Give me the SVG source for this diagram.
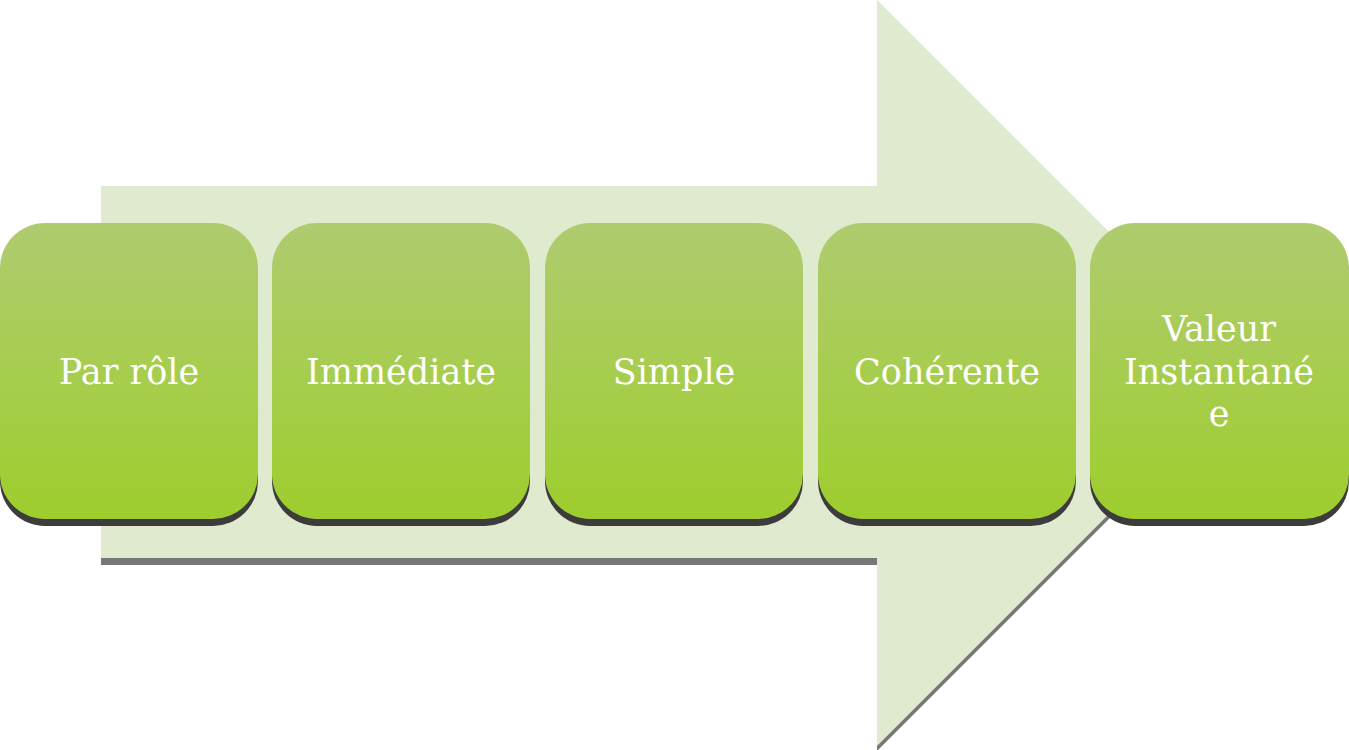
<svg xmlns="http://www.w3.org/2000/svg" width="1349" height="750" viewBox="0 0 1349 750">
<defs>
<linearGradient id="g" x1="0" y1="0" x2="0" y2="1">
<stop offset="0" stop-color="#afcb6f"/>
<stop offset="0.5" stop-color="#a7cd4f"/>
<stop offset="1" stop-color="#9ecd2d"/>
</linearGradient>
<style>
.sh{fill:#3c3c3c}
.bx{fill:url(#g)}
.t{font-family:"DejaVu Serif","Liberation Serif",serif;font-size:35px;fill:#ffffff;text-anchor:middle}
</style>
</defs>
<g id="arrow">
<path d="M101,191 H877 V5 L1250,378 L877,751 V565 H101 Z" fill="#777777"/>
<path d="M101,186 H877 V0 L1250,373 L877,746 V558 H101 Z" fill="#e0eacf"/>
</g>
<g id="connectors"></g>
<g id="n1">
<rect class="sh" x="0" y="230" width="258" height="296" rx="45"/>
<rect class="bx" x="0" y="223" width="258" height="296" rx="45"/>
<text class="t" x="129" y="384">Par rôle</text>
</g>
<g id="n2">
<rect class="sh" x="272" y="230" width="258" height="296" rx="45"/>
<rect class="bx" x="272" y="223" width="258" height="296" rx="45"/>
<text class="t" x="401" y="384">Immédiate</text>
</g>
<g id="n3">
<rect class="sh" x="545" y="230" width="258" height="296" rx="45"/>
<rect class="bx" x="545" y="223" width="258" height="296" rx="45"/>
<text class="t" x="674" y="384">Simple</text>
</g>
<g id="n4">
<rect class="sh" x="818" y="230" width="258" height="296" rx="45"/>
<rect class="bx" x="818" y="223" width="258" height="296" rx="45"/>
<text class="t" x="947" y="384">Cohérente</text>
</g>
<g id="n5">
<rect class="sh" x="1090" y="230" width="259" height="296" rx="45"/>
<rect class="bx" x="1090" y="223" width="259" height="296" rx="45"/>
<text class="t" x="1219" y="341">Valeur</text>
<text class="t" x="1219" y="384">Instantané</text>
<text class="t" x="1219" y="426">e</text>
</g>
</svg>
